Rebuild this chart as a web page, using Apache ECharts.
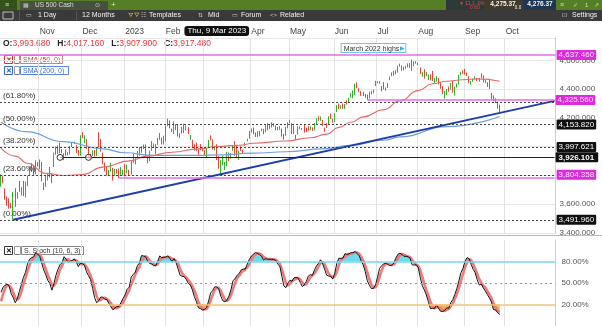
<!DOCTYPE html>
<html><head><meta charset="utf-8">
<script src="https://cdn.jsdelivr.net/npm/echarts@6/dist/echarts.min.js"></script>
<style>html,body{margin:0;padding:0;background:#fff}#c{width:602px;height:326px}</style>
</head><body><div id="c"></div>
<script>
// ---------- DATA (US 500 daily, Sep 2022 warm-up + Oct 2022 .. Sep 2023) ----------
const monthDays = [
 ['2022-09',[6,7,8,9,12,13,14,15,16,19,20,21,22,23,26,27,28,29,30]],
 ['2022-10',[3,4,5,6,7,10,11,12,13,14,17,18,19,20,21,24,25,26,27,28,31]],
 ['2022-11',[1,2,3,4,7,8,9,10,11,14,15,16,17,18,21,22,23,25,28,29,30]],
 ['2022-12',[1,2,5,6,7,8,9,12,13,14,15,16,19,20,21,22,23,27,28,29,30]],
 ['2023-01',[3,4,5,6,9,10,11,12,13,17,18,19,20,23,24,25,26,27,30,31]],
 ['2023-02',[1,2,3,6,7,8,9,10,13,14,15,16,17,21,22,23,24,27,28]],
 ['2023-03',[1,2,3,6,7,8,9,10,13,14,15,16,17,20,21,22,23,24,27,28,29,30,31]],
 ['2023-04',[3,4,5,6,10,11,12,13,14,17,18,19,20,21,24,25,26,27,28]],
 ['2023-05',[1,2,3,4,5,8,9,10,11,12,15,16,17,18,19,22,23,24,25,26,30,31]],
 ['2023-06',[1,2,5,6,7,8,9,12,13,14,15,16,20,21,22,23,26,27,28,29,30]],
 ['2023-07',[3,5,6,7,10,11,12,13,14,17,18,19,20,21,24,25,26,27,28,31]],
 ['2023-08',[1,2,3,4,7,8,9,10,11,14,15,16,17,18,21,22,23,24,25,28,29,30,31]],
 ['2023-09',[1,5,6,7,8,11,12,13,14,15,18,19,20,21,22,25,26,27]]
];
const futureMonthDays = [
 ['2023-09',[28,29]],
 ['2023-10',[2,3,4,5,6,9,10,11,12,13,16,17,18,19,20,23,24,25,26,27,30,31]],
 ['2023-11',[1,2,3]]
];
const firstVisible = '2022-10-05';
const lastLabelledMonth = '2023-10';

const opens = [
 3930,3909,3959,4022,4084,3983,3940,3932,3830,3849,3876,3871,3782,3727,3682,3686,3651,3688,3633,
 3610,3726,3753,3771,3707,3646,3595,3590,3520,3690,3638,3746,3690,3689,3658,3762,3799,3826,3835,3809,3882,
 3902,3853,3734,3766,3780,3818,3810,3859,3964,3978,4007,3977,3920,3967,3957,3957,4000,4024,4005,3964,3957,
 4087,4041,4053,3996,3934,3947,3954,3940,4069,4016,3958,3890,3854,3811,3840,3853,3815,3843,3829,3806,3830,
 3853,3840,3840,3823,3910,3889,3932,3977,3961,3999,4003,3912,3910,3979,4001,3982,4037,4053,4050,4020,
 4071,4158,4137,4119,4106,4153,4144,4068,4096,4121,4120,4114,4078,4047,4001,4018,3974,3993,3978,
 3964,3938,3998,4055,4048,3988,3993.68,3912,3836,3895,3876,3879,3959,3917,3975,4002,3959,3939,3983,3974,4007,4046,4057,
 4102,4128,4094,4082,4085,4111,4121,4101,4140,4137,4164,4140,4131,4132,4132,4126,4087,4075,4129,
 4166,4164,4123,4082,4085,4136,4124,4144,4133,4139,4127,4128,4123,4157,4204,4190,4176,4133,4156,4156,4226,4191,
 4184,4242,4282,4272,4285,4268,4304,4308,4345,4366,4366,4440,4397,4380,4355,4354,4345,4338,4367,4378,4422,
 4450,4443,4422,4404,4394,4416,4467,4491,4514,4508,4521,4563,4551,4550,4543,4556,4558,4598,4566,4585,
 4579,4550,4494,4514,4492,4498,4502,4487,4450,4459,4479,4434,4416,4345,4381,4416,4397,4455,4390,4426,4433,4501,4518,
 4531,4511,4490,4434,4452,4481,4473,4462,4487,4497,4445,4446,4453,4374,4342,4310,4313,4283
];
const highs = [
 3942,3987,4010,4077,4119,3985,3961,3960,3880,3901,3877,3907,3803,3727,3716,3717,3736,3688,3672,
 3698,3793,3807,3798,3711,3653,3641,3609,3685,3712,3684,3762,3718,3762,3757,3799,3863,3886,3859,3906,3893,
 3911,3894,3750,3796,3814,3860,3818,3959,4001,4009,4029,3983,3955,3979,3962,4006,4034,4035,4013,3977,4080,
 4101,4080,4053,4001,3951,3975,3977,3991,4101,4053,3959,3890,3864,3839,3889,3853,3846,3846,3849,3858,3840,
 3879,3874,3840,3907,3951,3920,3970,3997,4003,4015,4017,3923,3973,4039,4023,4019,4061,4095,4063,4077,
 4148,4195,4183,4126,4176,4157,4156,4094,4138,4159,4148,4136,4082,4049,4018,4029,3983,4018,3997,
 3975,3991,4048,4079,4051,4002,4017.16,3934,3906,3938,3894,3965,3959,3956,4010,4039,4007,3972,4004,3979,4030,4056,4110,
 4127,4134,4100,4107,4110,4125,4124,4150,4164,4152,4170,4163,4149,4138,4143,4127,4089,4138,4170,
 4187,4165,4149,4083,4143,4142,4131,4154,4133,4144,4142,4135,4165,4198,4212,4210,4186,4133,4166,4212,4231,4195,
 4232,4290,4300,4289,4300,4298,4323,4340,4375,4392,4439,4449,4407,4386,4382,4367,4363,4384,4390,4398,4458,
 4456,4455,4422,4449,4412,4443,4488,4517,4528,4532,4563,4578,4565,4556,4564,4580,4582,4607,4594,4595,
 4585,4551,4519,4540,4520,4503,4503,4527,4477,4490,4479,4450,4421,4387,4401,4418,4443,4459,4418,4440,4501,4522,4532,
 4541,4515,4490,4457,4474,4490,4478,4479,4511,4497,4466,4449,4462,4375,4357,4338,4314,4292
];
const lows = [
 3886,3906,3944,4022,4084,3921,3912,3889,3815,3838,3828,3789,3750,3648,3645,3624,3640,3610,3584,
 3604,3726,3722,3745,3631,3588,3569,3570,3492,3582,3638,3686,3661,3656,3647,3726,3799,3824,3803,3808,3863,
 3843,3758,3699,3722,3766,3786,3746,3859,3944,3949,3954,3955,3906,3935,3940,3946,3998,4020,3956,3937,3938,
 4058,4026,3985,3918,3917,3936,3933,3935,3994,3966,3879,3828,3800,3795,3827,3764,3798,3813,3781,3805,3800,
 3794,3816,3802,3807,3890,3877,3925,3937,3958,3984,3926,3885,3900,3971,3990,3949,4013,4048,4016,4016,
 4038,4142,4128,4103,4088,4115,4070,4061,4092,4096,4114,4089,4048,3995,3973,3972,3944,3974,3968,
 3940,3928,3996,4044,3981,3975,3907.90,3847,3809,3874,3838,3864,3901,3917,3972,3937,3920,3909,3970,3951,4006,4036,4056,
 4100,4087,4068,4069,4073,4108,4087,4100,4114,4124,4134,4140,4114,4114,4118,4071,4049,4075,4128,
 4165,4089,4089,4048,4085,4124,4117,4098,4100,4111,4116,4110,4114,4153,4180,4180,4144,4104,4131,4154,4192,4167,
 4172,4241,4262,4264,4264,4263,4293,4304,4342,4337,4360,4407,4379,4354,4353,4341,4328,4336,4364,4371,4422,
 4442,4437,4385,4399,4389,4408,4463,4490,4494,4504,4515,4557,4528,4531,4542,4552,4548,4528,4560,4578,
 4568,4505,4486,4474,4491,4464,4461,4457,4445,4453,4433,4403,4365,4335,4361,4382,4397,4376,4357,4411,4432,4497,4507,
 4502,4492,4443,4431,4452,4468,4457,4453,4478,4448,4442,4416,4402,4330,4316,4303,4265,4239
];
const closes = [
 3908,3980,4006,4067,4110,3933,3946,3901,3873,3900,3856,3790,3758,3693,3655,3647,3719,3640,3586,
 3678,3791,3783,3745,3640,3612,3589,3577,3670,3583,3678,3720,3695,3666,3753,3797,3859,3831,3807,3901,3872,
 3856,3760,3720,3771,3807,3828,3749,3956,3993,3957,3992,3959,3947,3965,3950,4004,4027,4026,3964,3958,4080,
 4077,4072,3999,3941,3934,3964,3934,3991,4020,3995,3896,3852,3818,3822,3878,3822,3845,3829,3783,3849,3840,
 3824,3853,3808,3895,3892,3919,3970,3983,3999,3991,3929,3899,3973,4020,4017,4016,4060,4071,4018,4077,
 4119,4180,4136,4111,4164,4118,4082,4090,4137,4136,4148,4090,4079,3997,3991,4012,3970,3982,3970,
 3951,3981,4046,4048,3986,3992,3917.48,3862,3856,3919,3892,3960,3917,3952,4003,3937,3949,3971,3978,3971,4028,4051,4109,
 4125,4101,4090,4105,4109,4109,4092,4146,4138,4151,4155,4155,4130,4134,4137,4072,4056,4135,4169,
 4168,4120,4091,4061,4136,4138,4119,4138,4131,4124,4136,4110,4159,4198,4192,4193,4146,4115,4151,4205,4206,4180,
 4221,4282,4274,4284,4268,4294,4299,4339,4369,4373,4426,4410,4389,4366,4382,4348,4329,4378,4377,4396,4450,
 4456,4447,4412,4399,4410,4439,4472,4510,4505,4523,4555,4566,4535,4536,4555,4567,4567,4537,4582,4589,
 4577,4513,4502,4478,4518,4499,4468,4469,4464,4490,4438,4404,4370,4370,4400,4388,4436,4376,4406,4433,4498,4515,4508,
 4516,4497,4465,4451,4457,4487,4462,4467,4505,4450,4454,4444,4402,4330,4320,4337,4274,4275
];

const sma50Dates  = ['2022-10-05','2022-10-14','2022-10-24','2022-11-04','2022-11-17','2022-12-01','2022-12-15','2023-01-05','2023-01-19','2023-02-06','2023-02-24','2023-03-09','2023-03-24','2023-04-04','2023-04-27','2023-05-15','2023-05-25','2023-06-05','2023-06-13','2023-06-22','2023-07-07','2023-07-19','2023-08-01','2023-08-10','2023-08-21','2023-08-31','2023-09-12','2023-09-27'];
const sma50Values = [3990,3935,3885,3815,3800,3806,3858,3902,3935,3962,3985,4002,4010,4024,4040,4062,4088,4135,4170,4208,4258,4318,4390,4438,4455,4466,4472,4455];
const sma200Dates  = ['2022-10-05','2022-10-21','2022-11-17','2022-12-15','2023-01-03','2023-01-24','2023-02-24','2023-03-09','2023-04-04','2023-04-27','2023-05-23','2023-06-13','2023-07-07','2023-07-19','2023-08-21','2023-09-27'];
const sma200Values = [4172,4105,4035,3985,3958,3940,3940,3943,3955,3965,3985,4010,4045,4068,4140,4210];

// Trend line anchors (Oct 2022 low, Mar 2023 low)
const trendDates  = ['2022-10-13','2023-03-13'];
const trendValues = [3491.58, 3808.86];

// Fibonacci retracement
const fibLow = 3491.96, fibHigh = 4815.68;
const fibRatios = [0.618, 0.5, 0.382, 0.236, 0];
const fibNames  = ['(61.80%)','(50.00%)','(38.20%)','(23.60%)','(0.00%)'];

// Drawn horizontal levels
const magentaLevels = [4637.46, 4325.56, 3781.96];
const magentaStarts = [null, '2023-06-26', '2022-12-28'];
const supportLevel = 3926.101, supportStart = '2022-11-15';
const touchDates = ['2022-11-15','2022-12-06'];
const crossDate = '2023-03-09', crossLabel = 'Thu, 9 Mar 2023';
const annotDate = '2023-06-29', annotText = 'March 2022 highs';

// Stochastic params
const stK = 10, stSlow = 6, stD = 3;
const stochLevels = [80, 50, 20];

// ---------- BUILD ----------
const FONT = '"Liberation Sans", Arial, sans-serif';
const dates = [];
monthDays.forEach(([m, ds]) => ds.forEach(d => dates.push(m + '-' + String(d).padStart(2, '0'))));
const future = [];
futureMonthDays.forEach(([m, ds]) => ds.forEach(d => future.push(m + '-' + String(d).padStart(2, '0'))));
const start = dates.indexOf(firstVisible);
const visDates = dates.slice(start);
const cats = visDates.concat(future);
const lastCat = cats[cats.length - 1];

function fmt3(v) {
  const s = v.toFixed(3); const p = s.split('.');
  return p[0].replace(/\B(?=(\d{3})+(?!\d))/g, ',') + '.' + p[1];
}
function sma(arr, n) {
  return arr.map((v, i) => {
    if (i < n - 1) return null;
    let s = 0;
    for (let j = i - n + 1; j <= i; j++) { if (arr[j] == null) return null; s += arr[j]; }
    return s / n;
  });
}
const fastK = closes.map((c, i) => {
  if (i < stK - 1) return null;
  let hh = -Infinity, ll = Infinity;
  for (let j = i - stK + 1; j <= i; j++) { hh = Math.max(hh, highs[j]); ll = Math.min(ll, lows[j]); }
  return hh === ll ? 50 : 100 * (c - ll) / (hh - ll);
});
const slowK = sma(fastK, stSlow);
const slowD = sma(slowK, stD);
const pad = future.map(() => null);
const kVis = slowK.slice(start).concat(pad);
const dVis = slowD.slice(start).concat(pad);

const candles = visDates.map((d, k) => { const i = k + start; return [opens[i], closes[i], lows[i], highs[i]]; });

const monthAbbr = ['Jan','Feb','Mar','Apr','May','Jun','Jul','Aug','Sep','Oct','Nov','Dec'];
const isMonthStart = cats.map((d, i) => i > 0 && d.slice(0, 7) !== cats[i - 1].slice(0, 7) && d.slice(0, 7) <= lastLabelledMonth);

// trend line extended to the right edge
const ti0 = cats.indexOf(trendDates[0]), ti1 = cats.indexOf(trendDates[1]);
const tSlope = (trendValues[1] - trendValues[0]) / (ti1 - ti0);
const trendEnd = trendValues[0] + tSlope * (cats.length - 1 - ti0);

// crosshair OHLC
const ci = dates.indexOf(crossDate);

// ---------- MARK LINES ----------
const blackLbl = { show: true, position: 'end', distance: 1, backgroundColor: '#111', color: '#fff', padding: [1, 2, 1, 2], fontSize: 8, fontFamily: FONT, borderRadius: 1 };
const magLbl = Object.assign({}, blackLbl, { backgroundColor: '#dc2bdc', color: '#fde6fd' });
const mainLines = [];
fibRatios.forEach((r, k) => {
  const v = fibLow + r * (fibHigh - fibLow);
  const ls = { color: '#444', type: [2, 2], width: 1 };
  mainLines.push({ yAxis: v, lineStyle: ls, label: { show: true, position: 'insideStartTop', distance: [3, 2], formatter: fibNames[k], color: '#333', fontSize: 8, fontFamily: FONT } });
  if (r !== 0.618) {
    mainLines.push({ yAxis: v, lineStyle: ls, label: Object.assign({}, r === 0.236 ? magLbl : blackLbl, { formatter: fmt3(v) }) });
  }
});
magentaLevels.forEach((v, k) => {
  const ls = { color: '#e46be4', width: 1.6, type: 'solid' };
  const lbl = k < 2 ? Object.assign({}, magLbl, { formatter: fmt3(v) }) : { show: false };
  if (magentaStarts[k] == null) mainLines.push({ yAxis: v, lineStyle: ls, label: lbl });
  else mainLines.push([{ coord: [magentaStarts[k], v], lineStyle: ls, label: lbl }, { coord: [lastCat, v] }]);
});
mainLines.push([{ coord: [supportStart, supportLevel], lineStyle: { color: '#222', width: 1, type: 'solid' },
  label: Object.assign({}, blackLbl, { formatter: fmt3(supportLevel), fontWeight: 'bold', padding: [1, 4, 1, 3] }) },
  { coord: [lastCat, supportLevel] }]);

// ---------- GRAPHICS (platform chrome) ----------
const wt = (x, y, text, fill, size, extra) => Object.assign({ type: 'text', x: x, y: y, silent: true,
  style: Object.assign({ text: text, fill: fill, font: (size || 7) + 'px ' + FONT, textVerticalAlign: 'middle' }, extra || {}) });
const rc = (x, y, w, h, fill, stroke) => ({ type: 'rect', silent: true, shape: { x: x, y: y, width: w, height: h },
  style: { fill: fill, stroke: stroke || null, lineWidth: stroke ? 1 : 0 } });
const o = opens[ci], h = highs[ci], l = lows[ci], c = closes[ci];
const graphics = [
  rc(0, 0, 602, 10, '#557f27'),
  rc(0, 0, 17, 10, '#34531a'),
  wt(5, 5, '≡', '#dfe8d0', 7),
  rc(20, 1, 88, 9, '#46523e'),
  wt(23, 5.5, '▦', '#c8c8c8', 6),
  wt(35, 5.5, 'US 500 Cash', '#dcdcdc', 6.5),
  wt(95, 5.5, '⊙', '#c8c8c8', 6),
  wt(111, 5, '+', '#d9e6c4', 8),
  rc(446, 0, 110, 10, '#2e3a37'),
  wt(459, 3.3, '▼ 11.1 -0%', '#e04848', 5),
  wt(470, 7.8, '0.60', '#e04848', 5),
  rc(484, 0, 38, 10, '#403c2b'),
  wt(503, 4.5, '4,275.37', '#f4f4f4', 6.5, { textAlign: 'center', font: 'bold 6.5px ' + FONT }),
  wt(518, 8.2, '0.0', '#f4f4f4', 4.5, { textAlign: 'center' }),
  rc(524, 0, 31, 10, '#1f3651'),
  wt(540, 4.5, '4,276.37', '#f4f4f4', 6.5, { textAlign: 'center', font: 'bold 6.5px ' + FONT }),
  wt(560, 5, '≡', '#cfe0b8', 7),
  wt(573, 5, '✓', '#cfe0b8', 6),
  wt(585, 5, '1', '#cfe0b8', 6),
  wt(594, 5, '↗', '#cfe0b8', 6),
  rc(0, 10, 602, 11, '#3a3a3a'),
  rc(3, 12, 10, 7, null, '#bbbbbb'),
  { type: 'line', silent: true, shape: { x1: 19.5, y1: 11, x2: 19.5, y2: 21 }, style: { stroke: '#555' } },
  wt(26, 15.5, '▭', '#cccccc', 6),
  wt(38, 15.5, '1 Day', '#f2f2f2', 7),
  { type: 'line', silent: true, shape: { x1: 76.5, y1: 11, x2: 76.5, y2: 21 }, style: { stroke: '#555' } },
  wt(82, 15.5, '12 Months', '#f2f2f2', 7),
  wt(128, 15.5, 'ᗊᐁ', '#e8c330', 6),
  wt(141, 15.5, '☷', '#cccccc', 6),
  wt(149, 15.5, 'Templates', '#f2f2f2', 7),
  wt(198, 15.5, '⇅', '#cccccc', 6),
  wt(208, 15.5, 'Mid', '#f2f2f2', 7),
  wt(232, 15.5, '▭', '#cccccc', 6),
  wt(241, 15.5, 'Forum', '#f2f2f2', 7),
  wt(270, 15.5, '<>', '#cccccc', 6),
  wt(280, 15.5, 'Related', '#f2f2f2', 7),
  wt(562, 15.5, '⊡', '#cccccc', 6),
  wt(572, 15.5, 'Settings', '#f2f2f2', 7),
  { type: 'text', x: 3, y: 43.5, silent: true, style: {
    text: '{k|O:}{v|' + fmt3(o) + '}   {k|H:}{v|' + fmt3(h) + '}   {k|L:}{v|' + fmt3(l) + '}   {k|C:}{v|' + fmt3(c) + '}',
    textVerticalAlign: 'middle', font: '8.5px ' + FONT,
    rich: { k: { fill: '#222', font: 'bold 8.5px ' + FONT }, v: { fill: '#e5383b', font: '8.5px ' + FONT } } } },
  // SMA legends
  rc(4.5, 55.5, 8, 8, '#fff', '#d33'), wt(8.5, 59.8, '✕', '#d22', 7, { textAlign: 'center', font: 'bold 7px ' + FONT }),
  rc(14.5, 55.5, 5, 8, '#fff', '#999'), wt(17, 61, '_', '#333', 6, { textAlign: 'center' }),
  rc(20.5, 55.5, 42, 8, '#fff', '#e07a7a'), wt(23, 59.8, 'SMA (50, 0)', '#d33', 7),
  rc(4.5, 66.5, 8, 8, '#fff', '#3464c8'), wt(8.5, 70.8, '✕', '#2a5bc2', 7, { textAlign: 'center', font: 'bold 7px ' + FONT }),
  rc(14.5, 66.5, 5, 8, '#fff', '#999'), wt(17, 72, '_', '#333', 6, { textAlign: 'center' }),
  rc(20.5, 66.5, 48, 8, '#fff', '#5a86d6'), wt(23, 70.8, 'SMA (200, 0)', '#3a6ac8', 7),
  // panel separator
  { type: 'line', silent: true, shape: { x1: 0, y1: 235.5, x2: 602, y2: 235.5 }, style: { stroke: '#b8b8b8', lineWidth: 1 } },
  // stoch legend
  rc(4.5, 246.5, 8, 8, '#fff', '#333'), wt(8.5, 250.8, '✕', '#111', 7, { textAlign: 'center', font: 'bold 7px ' + FONT }),
  rc(14.5, 246.5, 6, 8, '#fff', '#999'), wt(17.5, 252, '_', '#333', 6, { textAlign: 'center' }),
  rc(21.5, 246.5, 62, 8, '#fff', '#888'), wt(24, 250.8, 'S. Stoch (10, 6, 3)', '#333', 7)
];
const lenOk = [opens, highs, lows, closes].every(a => a.length === dates.length);
if (!lenOk) graphics.push(wt(150, 150, 'LEN ' + dates.length + ' ' + opens.length + ' ' + highs.length + ' ' + lows.length + ' ' + closes.length, '#f00', 14));

// ---------- OPTION ----------
const gridL = 0, gridR = 46.4;
const splitX = { show: true, interval: (i) => isMonthStart[i], lineStyle: { color: '#e2e2e2', width: 1 } };
const option = {
  animation: false,
  backgroundColor: '#fff',
  textStyle: { fontFamily: FONT },
  grid: [
    { left: gridL, right: gridR, top: 38, height: 195 },
    { left: gridL, right: gridR, top: 240, height: 90 }
  ],
  xAxis: [
    { type: 'category', gridIndex: 0, data: cats, position: 'top', boundaryGap: true,
      axisLine: { show: false }, axisTick: { show: false }, splitLine: splitX,
      axisLabel: { interval: (i) => isMonthStart[i], align: 'left', margin: 2, fontSize: 8.5, color: '#444',
        formatter: (v) => { const m = +v.slice(5, 7); return m === 1 ? v.slice(0, 4) : monthAbbr[m - 1]; } },
      axisPointer: { show: true, value: crossDate, status: 'show', triggerTooltip: false, type: 'line',
        lineStyle: { opacity: 0 },
        label: { show: true, formatter: crossLabel, backgroundColor: '#111', color: '#fff', padding: [1, 3, 1, 3], fontSize: 8, margin: 2, fontFamily: FONT } } },
    { type: 'category', gridIndex: 1, data: cats, boundaryGap: true,
      axisLine: { show: false }, axisTick: { show: false }, axisLabel: { show: false }, splitLine: splitX }
  ],
  yAxis: [
    { type: 'value', gridIndex: 0, position: 'right', min: 3400, max: 4756.3, interval: 200,
      axisLine: { show: true, lineStyle: { color: '#cfcfcf' } }, axisTick: { show: false },
      axisLabel: { showMaxLabel: false, margin: 4, fontSize: 8, color: '#555', formatter: (v) => fmt3(v) },
      splitLine: { show: true, lineStyle: { color: '#e8e8e8' } } },
    { type: 'value', gridIndex: 1, position: 'right', min: -10, max: 110, interval: 30,
      axisLine: { show: true, lineStyle: { color: '#cfcfcf' } }, axisTick: { show: false },
      axisLabel: { margin: 6, fontSize: 8, color: '#555', showMaxLabel: false, showMinLabel: false,
        formatter: (v) => stochLevels.indexOf(v) >= 0 ? v.toFixed(2) + '%' : '' },
      splitLine: { show: false } }
  ],
  series: [
    { type: 'candlestick', name: 'US 500', xAxisIndex: 0, yAxisIndex: 0, data: candles, barWidth: 1,
      itemStyle: { color: '#2fae2f', color0: '#e2473b', borderColor: '#2fae2f', borderColor0: '#e2473b', borderWidth: 1 },
      markLine: { silent: true, symbol: ['none', 'none'], animation: false, data: mainLines },
      markPoint: { silent: true, data: [
        { coord: [annotDate, magentaLevels[0]], symbol: 'circle', symbolSize: 0,
          label: { show: true, position: 'top', distance: 3, formatter: '{t|' + annotText + '}{a|▶}',
            backgroundColor: '#fff', borderColor: '#6cc4ea', borderWidth: 1, padding: [1, 0, 0, 2],
            rich: { t: { fontSize: 7, color: '#333', fontFamily: FONT }, a: { fontSize: 6, color: '#3ab0e6', padding: [0, 0, 0, 1] } } } },
        { coord: [touchDates[0], supportLevel], symbol: 'circle', symbolSize: 6, itemStyle: { color: 'rgba(255,255,255,0.6)', borderColor: '#333', borderWidth: 1 }, label: { show: false } },
        { coord: [touchDates[1], supportLevel], symbol: 'circle', symbolSize: 6, itemStyle: { color: 'rgba(255,255,255,0.6)', borderColor: '#333', borderWidth: 1 }, label: { show: false } }
      ] } },
    { type: 'line', name: 'SMA (200, 0)', xAxisIndex: 0, yAxisIndex: 0, data: sma200Dates.map((d, i) => [d, sma200Values[i]]),
      smooth: 0.5, smoothMonotone: 'x', symbol: 'none', lineStyle: { color: '#6d9fdc', width: 1.2 } },
    { type: 'line', name: 'SMA (50, 0)', xAxisIndex: 0, yAxisIndex: 0, data: sma50Dates.map((d, i) => [d, sma50Values[i]]),
      smooth: 0.5, smoothMonotone: 'x', symbol: 'none', lineStyle: { color: '#e36a6a', width: 1.1 } },
    { type: 'line', name: 'trend', xAxisIndex: 0, yAxisIndex: 0, data: [[trendDates[0], trendValues[0]], [lastCat, trendEnd]],
      symbol: 'none', lineStyle: { color: '#1d3fae', width: 2 } },
    { type: 'line', xAxisIndex: 1, yAxisIndex: 1, stack: 'up', data: kVis.map(v => v == null ? null : 80), symbol: 'none', lineStyle: { opacity: 0 },
      markLine: { silent: true, symbol: ['none', 'none'], label: { show: false }, data: [
        { yAxis: stochLevels[0], lineStyle: { color: '#74d8ec', width: 1.5, type: 'solid' } },
        { yAxis: stochLevels[1], lineStyle: { color: '#999', width: 1, type: [2, 3] } },
        { yAxis: stochLevels[2], lineStyle: { color: '#f2c27a', width: 1.5, type: 'solid' } } ] } },
    { type: 'line', xAxisIndex: 1, yAxisIndex: 1, stack: 'up', data: kVis.map(v => v == null ? null : Math.max(v - 80, 0)), symbol: 'none',
      lineStyle: { opacity: 0 }, areaStyle: { color: '#6fd9ee', opacity: 1 } },
    { type: 'line', xAxisIndex: 1, yAxisIndex: 1, stack: 'dn', data: kVis.map(v => v == null ? null : Math.min(v, 20)), symbol: 'none', lineStyle: { opacity: 0 } },
    { type: 'line', xAxisIndex: 1, yAxisIndex: 1, stack: 'dn', data: kVis.map(v => v == null ? null : 20 - Math.min(v, 20)), symbol: 'none',
      lineStyle: { opacity: 0 }, areaStyle: { color: '#f5b24e', opacity: 1 } },
    { type: 'line', name: '%D', xAxisIndex: 1, yAxisIndex: 1, data: dVis, symbol: 'none', lineStyle: { color: '#ee7b7b', width: 2.6 } },
    { type: 'line', name: '%K', xAxisIndex: 1, yAxisIndex: 1, data: kVis, symbol: 'none', lineStyle: { color: '#111', width: 1 } }
  ],
  graphic: graphics
};
const chart = echarts.init(document.getElementById('c'));
chart.setOption(option);
</script>
</body></html>
